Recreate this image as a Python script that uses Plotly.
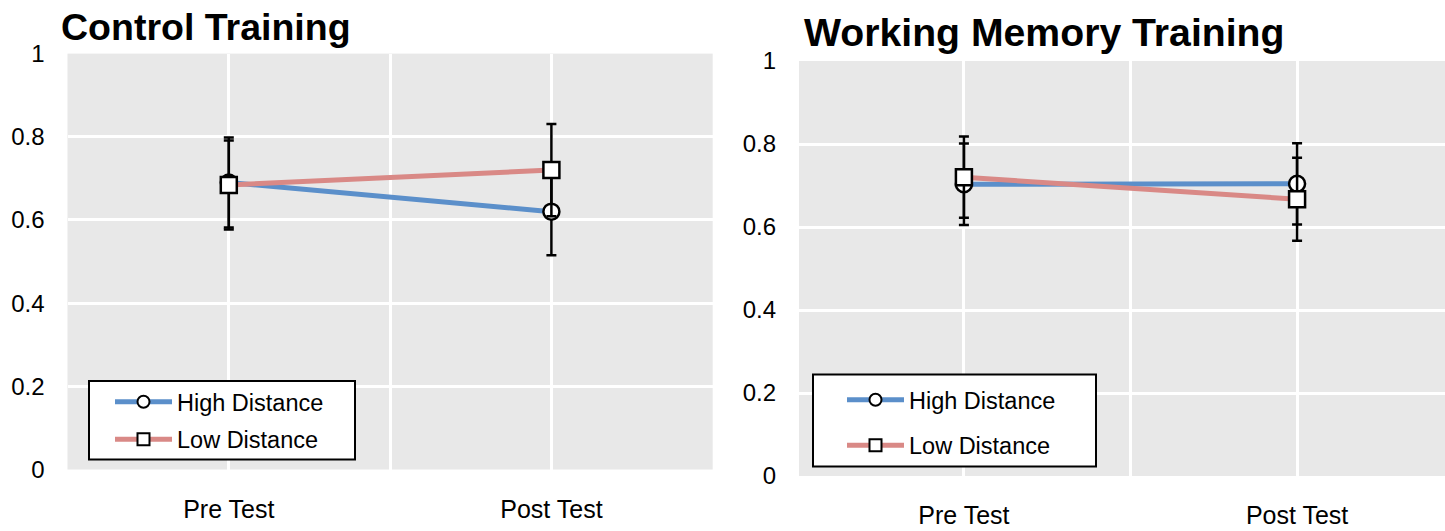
import plotly.graph_objects as go

# Accuracy by session for each training group
sessions = ["Pre Test", "Post Test"]
session_pos = [0, 1]

ctrl_high = [0.690, 0.620]
ctrl_high_err = [0.108, 0.105]
ctrl_low = [0.684, 0.720]
ctrl_low_err = [0.107, 0.111]

wm_high = [0.703, 0.704]
wm_high_err = [0.098, 0.098]
wm_low = [0.720, 0.667]
wm_low_err = [0.098, 0.100]

y_ticks = [0, 0.2, 0.4, 0.6, 0.8, 1]
y_tick_text = ["0", "0.2", "0.4", "0.6", "0.8", "1"]

W, H = 1445, 531
BLUE = "#5b8fca"
RED = "#d98986"
FONT = "Liberation Sans, Arial, sans-serif"


def px_x(p):
    return p / W


def px_y(p):
    return 1 - p / H


def add_series(fig, y, err, name, color, symbol, xaxis, yaxis, legend, group):
    fig.add_trace(go.Scatter(
        x=session_pos, y=y, name=name, mode="lines+markers",
        xaxis=xaxis, yaxis=yaxis, legend=legend, legendgroup=group,
        line=dict(color=color, width=5),
        marker=dict(symbol=symbol, size=16, color="white",
                    line=dict(color="black", width=2.5)),
        error_y=dict(type="data", array=err, visible=True,
                     color="black", thickness=2.5, width=5),
    ))


fig = go.Figure()
add_series(fig, ctrl_high, ctrl_high_err, "High Distance", BLUE, "circle", "x", "y", "legend", "c_high")
add_series(fig, ctrl_low, ctrl_low_err, "Low Distance", RED, "square", "x", "y", "legend", "c_low")
add_series(fig, wm_high, wm_high_err, "High Distance", BLUE, "circle", "x2", "y2", "legend2", "w_high")
add_series(fig, wm_low, wm_low_err, "Low Distance", RED, "square", "x2", "y2", "legend2", "w_low")

xaxis_common = dict(
    tickvals=[0, 0.5, 1], ticktext=[sessions[0], "", sessions[1]],
    showgrid=True, gridcolor="white", gridwidth=2.5, zeroline=False,
    showline=False, ticks="", tickfont=dict(size=25, color="black", family=FONT),
    ticklabelstandoff=22, automargin=False,
)
yaxis_common = dict(
    range=[0, 1], tickvals=y_ticks, ticktext=y_tick_text,
    showgrid=True, gridcolor="white", gridwidth=2.5, zeroline=False,
    showline=False, ticks="", tickfont=dict(size=24, color="black", family=FONT),
    ticklabelstandoff=22, automargin=False,
)

legend_common = dict(
    bgcolor="rgba(0,0,0,0)", borderwidth=0,
    font=dict(size=23.5, color="black", family=FONT),
    xanchor="left", yanchor="top", itemwidth=57, itemsizing="constant",
    traceorder="grouped",
)

# legend frames
frame_style = dict(type="rect", xref="paper", yref="paper", layer="above",
                   fillcolor="white", line=dict(color="black", width=2))
shapes = [
    dict(x0=px_x(89), x1=px_x(355), y0=px_y(459.5), y1=px_y(381), **frame_style),
    dict(x0=px_x(813), x1=px_x(1096), y0=px_y(466.5), y1=px_y(374.5), **frame_style),
]

fig.update_layout(
    width=W, height=H,
    margin=dict(l=0, r=0, t=0, b=0, autoexpand=False),
    paper_bgcolor="white",
    plot_bgcolor="#e8e8e8",
    xaxis=dict(domain=[px_x(67.5), px_x(712.7)], range=[-0.5, 1.5], anchor="y", **xaxis_common),
    yaxis=dict(domain=[px_y(469.5), px_y(53.6)], anchor="x", **yaxis_common),
    xaxis2=dict(domain=[px_x(799), 1.0], range=[-0.495, 1.444], anchor="y2", **xaxis_common),
    yaxis2=dict(domain=[px_y(476), px_y(61)], anchor="x2", **yaxis_common),
    legend=dict(x=px_x(110), y=px_y(380), tracegroupgap=4, **legend_common),
    legend2=dict(x=px_x(842), y=px_y(378), tracegroupgap=12, **legend_common),
    shapes=shapes,
    annotations=[
        dict(text="<b>Control Training</b>", xref="paper", yref="paper",
             x=px_x(59), y=px_y(27), xanchor="left", yanchor="middle",
             showarrow=False, font=dict(size=37.5, color="black", family=FONT)),
        dict(text="<b>Working Memory Training</b>", xref="paper", yref="paper",
             x=px_x(802), y=px_y(33), xanchor="left", yanchor="middle",
             showarrow=False, font=dict(size=39.2, color="black", family=FONT)),
    ],
    showlegend=True,
)

fig.write_html("out.html")
